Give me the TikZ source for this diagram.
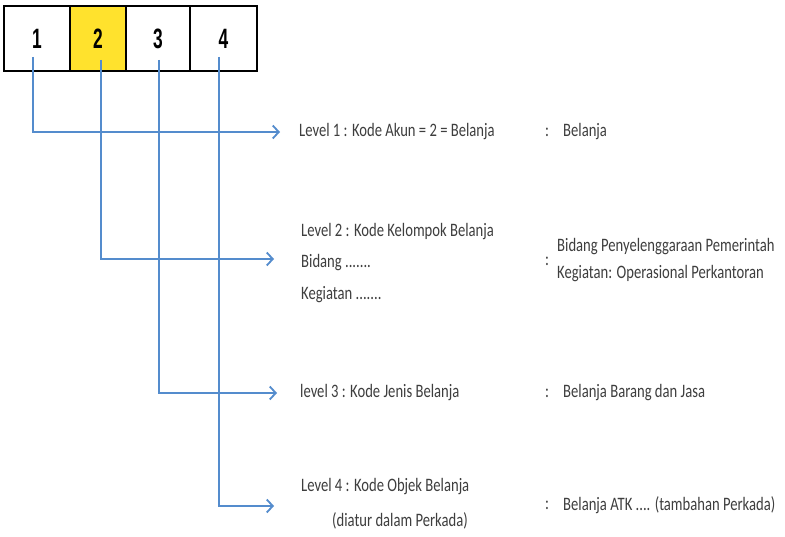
\documentclass[tikz,border=0pt]{standalone}
\usepackage{fontspec}
\setmainfont{Carlito}
\newfontfamily\numfont{Liberation Sans}
\usetikzlibrary{arrows.meta}
\definecolor{linecol}{RGB}{84,140,205}
\definecolor{txtcol}{RGB}{62,62,62}
\definecolor{cellyellow}{RGB}{255,226,45}
\newcommand{\sq}[1]{\scalebox{0.77}[1]{#1}}
\newcommand{\dg}[1]{\scalebox{0.62}[1]{#1}}
\begin{document}
\begin{tikzpicture}[x=1pt,y=-1pt,
  cell/.style={draw=black, line width=2.5pt, fill=white, minimum height=65pt, inner sep=0pt, font=\numfont\bfseries\fontsize{28}{28}\selectfont},
  lbl/.style={anchor=west, inner sep=0pt, text=txtcol, font=\fontsize{19}{22}\selectfont},
  conn/.style={draw=linecol, line width=1.8pt, -{Straight Barb[length=6pt,width=13pt,line width=1.8pt]}},
]
\useasboundingbox (0,0) rectangle (785,537);
\fill[white] (0,0) rectangle (785,537);

% cells
\node[cell, minimum width=66pt] (c1) at (37,38.5) {\dg{1}};
\node[cell, minimum width=56pt, fill=cellyellow] (c2) at (98,38.5) {\dg{2}};
\node[cell, minimum width=64pt] (c3) at (158,38.5) {\dg{3}};
\node[cell, minimum width=67pt] (c4) at (223.5,38.5) {\dg{4}};

% connector start / end points
\coordinate (s1) at (33,57);
\coordinate (s2) at (101,60);
\coordinate (s3) at (159,60);
\coordinate (s4) at (219,57);
\coordinate (e1) at (280,132);
\coordinate (e2) at (274,259);
\coordinate (e3) at (277,393);
\coordinate (e4) at (274,506);

\draw[conn] (s1) |- (e1);
\draw[conn] (s2) |- (e2);
\draw[conn] (s3) |- (e3);
\draw[conn] (s4) |- (e4);

% level 1
\node[lbl] (l1) at (299,132) {\sq{Level 1 : Kode Akun = 2 = Belanja}};
\node[lbl] (k1) at (545,132) {\sq{:}};
\node[lbl] (v1) at (563,132) {\sq{Belanja}};

% level 2
\node[lbl] (l2a) at (301,232) {\sq{Level 2 : Kode Kelompok Belanja}};
\node[lbl] (l2b) at (301,263) {\sq{Bidang .......}};
\node[lbl] (l2c) at (301,295) {\sq{Kegiatan .......}};
\node[lbl] (k2) at (545,261) {\sq{:}};
\node[lbl] (v2a) at (557,247) {\sq{Bidang Penyelenggaraan Pemerintah}};
\node[lbl] (v2b) at (557,274) {\sq{Kegiatan: Operasional Perkantoran}};

% level 3
\node[lbl] (l3) at (300,393) {\sq{level 3 : Kode Jenis Belanja}};
\node[lbl] (k3) at (545,393) {\sq{:}};
\node[lbl] (v3) at (563,393) {\sq{Belanja Barang dan Jasa}};

% level 4
\node[lbl] (l4a) at (301,487) {\sq{Level 4 : Kode Objek Belanja}};
\node[lbl] (l4b) at (332,521) {\sq{(diatur dalam Perkada)}};
\node[lbl] (k4) at (545,505) {\sq{:}};
\node[lbl] (v4) at (563,505) {\sq{Belanja ATK .... (tambahan Perkada)}};
\end{tikzpicture}
\end{document}
